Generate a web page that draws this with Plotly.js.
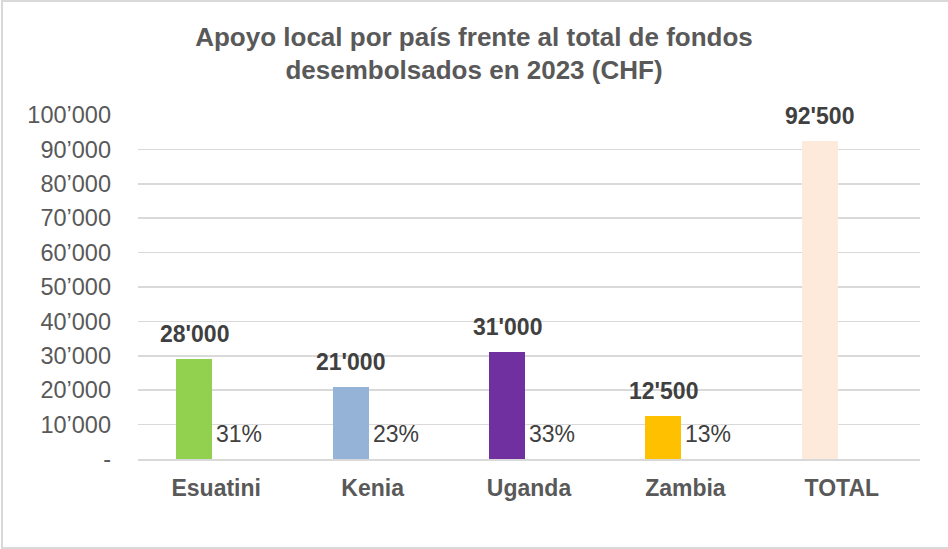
<!DOCTYPE html>
<html>
<head>
<meta charset="utf-8">
<script src="https://cdn.plot.ly/plotly-3.0.1.min.js"></script>
<style>
  html, body { margin: 0; padding: 0; background: #ffffff; }
  #wrap { position: relative; width: 948px; height: 549px; overflow: hidden; }
  #chart { position: absolute; left: 0; top: 0; width: 948px; height: 549px; }
  #frame { position: absolute; left: 1px; top: 0; width: 980px; height: 545px;
           border: 2px solid #d9d9d9; pointer-events: none; }
</style>
</head>
<body>
<div id="wrap">
  <div id="chart"></div>
  <div id="frame"></div>
</div>
<script>
// ---- data ----
const categories = ["Esuatini", "Kenia", "Uganda", "Zambia", "TOTAL"];
const barValues = [29000, 21000, 31000, 12500, 92500];
const valueLabels = ["28'000", "21'000", "31'000", "12'500", "92'500"];
const shareLabels = ["31%", "23%", "33%", "13%", ""];
const barColors = ["#92D050", "#95B3D7", "#7030A0", "#FFC000", "#FDEADA"];
const yTickVals = [0, 10000, 20000, 30000, 40000, 50000, 60000, 70000, 80000, 90000, 100000];
const yTickText = ["-", "10’000", "20’000", "30’000", "40’000", "50’000", "60’000", "70’000", "80’000", "90’000", "100’000"];

const FONT = "Liberation Sans, Arial, sans-serif";

const trace = {
  type: "bar",
  x: categories,
  y: barValues,
  marker: { color: barColors, line: { width: 0 } },
  offset: -0.256,
  width: 0.23,
  hoverinfo: "skip",
  showlegend: false
};

const annotations = [];
categories.forEach((c, i) => {
  annotations.push({
    x: c, y: barValues[i], xref: "x", yref: "y",
    text: "<b>" + valueLabels[i] + "</b>",
    showarrow: false, xanchor: "center", yanchor: "bottom",
    xshift: -22, yshift: 10,
    font: { family: FONT, size: 23, color: "#404040" }
  });
  if (shareLabels[i]) {
    annotations.push({
      x: c, y: 0, xref: "x", yref: "y",
      text: shareLabels[i],
      showarrow: false, xanchor: "left", yanchor: "bottom",
      xshift: -2, yshift: 10,
      font: { family: FONT, size: 23, color: "#404040" }
    });
  }
});

const layout = {
  width: 948, height: 549,
  margin: { l: 138, r: 28, t: 115, b: 90, pad: 0 },
  paper_bgcolor: "#ffffff",
  plot_bgcolor: "#ffffff",
  title: {
    text: "<b>Apoyo local por país frente al total de fondos<br>desembolsados en 2023 (CHF)</b>",
    x: 0.5, xref: "container", xanchor: "center",
    y: 0.917, yref: "container", yanchor: "top",
    font: { family: FONT, size: 26, color: "#595959" }
  },
  xaxis: {
    type: "category",
    range: [-0.5, 4.5],
    showgrid: false,
    showline: true, linecolor: "#d9d9d9", linewidth: 2,
    ticks: "",
    ticklabelstandoff: 7,
    tickfont: { family: FONT, size: 23, color: "#595959" },
    tickvals: categories,
    ticktext: categories.map(c => "<b>" + c + "</b>"),
    fixedrange: true
  },
  yaxis: {
    range: [0, 100000],
    tickvals: yTickVals,
    ticktext: yTickText,
    showgrid: true, gridcolor: "#d9d9d9", gridwidth: 1.5,
    zeroline: false,
    showline: false,
    ticks: "",
    ticklabelstandoff: 26,
    tickfont: { family: FONT, size: 23.5, color: "#595959" },
    fixedrange: true
  },
  annotations: annotations,
  bargap: 0
};

Plotly.newPlot("chart", [trace], layout, { displayModeBar: false, staticPlot: true });
</script>
</body>
</html>
